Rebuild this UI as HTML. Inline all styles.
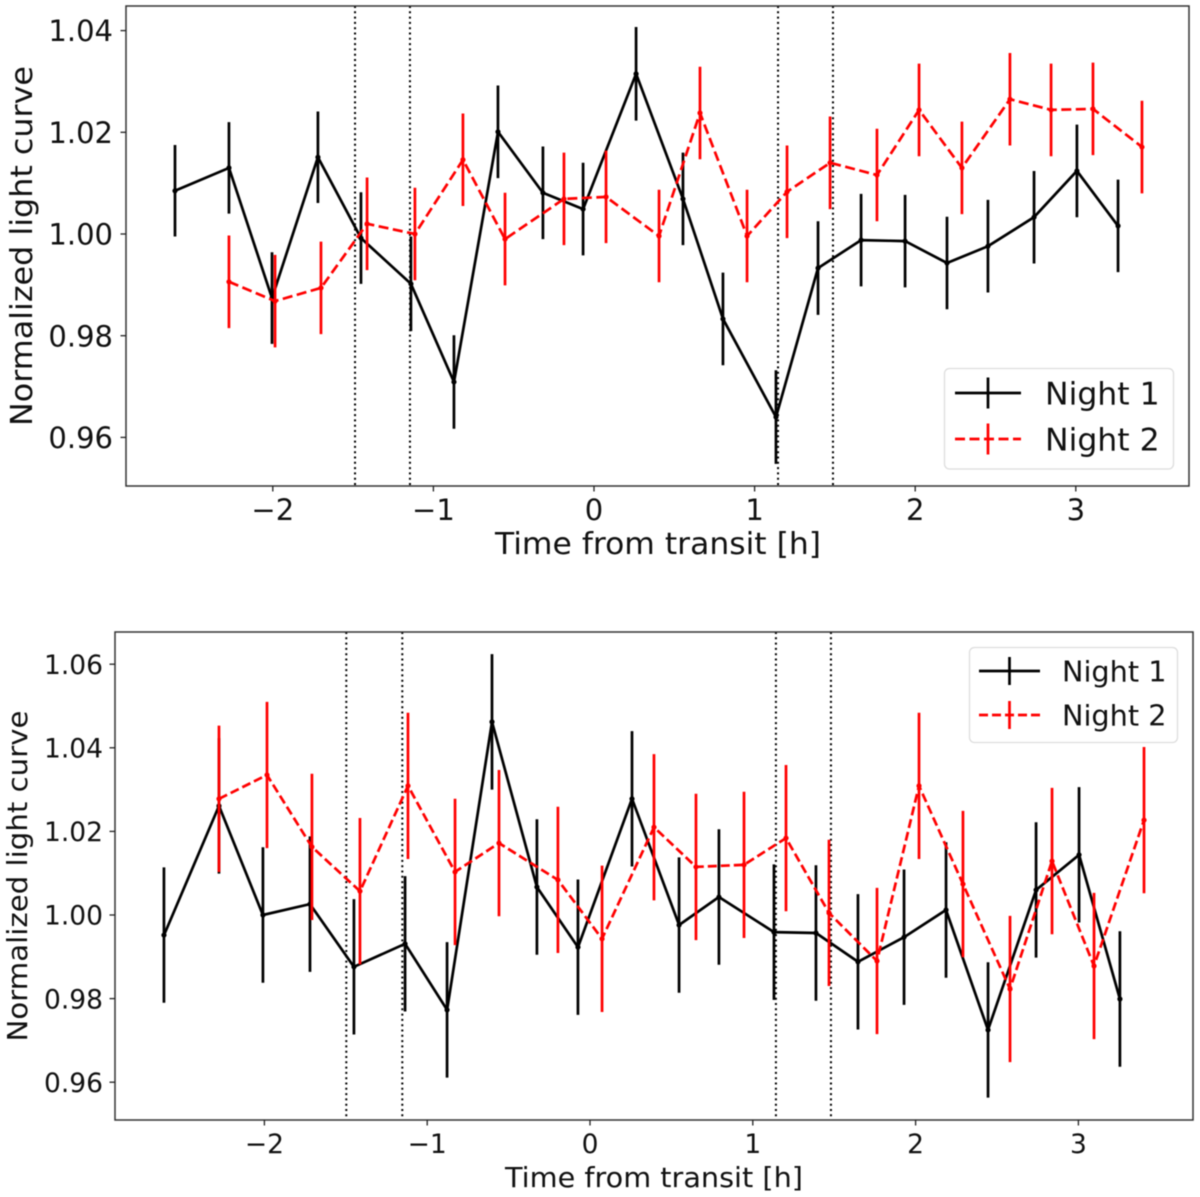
<!DOCTYPE html>
<html>
<head>
<meta charset="utf-8">
<title>Normalized light curves</title>
<style>
html,body{margin:0;padding:0;background:#fff;}
svg{display:block;font-family:"DejaVu Sans","Liberation Sans",sans-serif;filter:blur(0.4px);}
</style>
</head>
<body>
<svg id="fig" xmlns="http://www.w3.org/2000/svg" width="1200" height="1197" viewBox="0 0 1200 1197"></svg>
<script>
// ---- Top panel data ----
const topN1Time = [-2.609,-2.273,-2.005,-1.719,-1.451,-1.14,-0.872,-0.598,-0.318,-0.068,0.262,0.554,0.803,1.133,1.395,1.663,1.937,2.198,2.453,2.74,3.007,3.263];
const topN1Flux = [1.0085,1.013,0.9874,1.0151,0.9992,0.9902,0.9709,1.0201,1.0081,1.0049,1.0315,1.0069,0.9833,0.964,0.9933,0.9988,0.9986,0.9943,0.9976,1.0033,1.0124,1.0016];
const topN1Err = [0.009,0.009,0.009,0.009,0.009,0.0093,0.0092,0.0091,0.0091,0.0091,0.0092,0.0091,0.0091,0.0092,0.0092,0.0091,0.0091,0.0091,0.0091,0.0091,0.0091,0.0091];
const topN2Time = [-2.273,-1.986,-1.70,-1.413,-1.115,-0.816,-0.554,-0.187,0.075,0.405,0.66,0.953,1.202,1.47,1.762,2.024,2.291,2.59,2.846,3.107,3.412];
const topN2Flux = [0.9906,0.9868,0.9894,1.002,1.0,1.0146,0.999,1.0069,1.0073,0.9996,1.0238,0.9996,1.0083,1.014,1.0116,1.0244,1.013,1.0265,1.0244,1.0246,1.0171];
const topN2Err = [0.0091,0.0091,0.0091,0.0091,0.0091,0.0091,0.0091,0.0091,0.0091,0.0091,0.0091,0.0091,0.0091,0.0091,0.0091,0.0091,0.0091,0.0091,0.0091,0.0091,0.0091];
const topXTicks = [-2,-1,0,1,2,3];
const topYTicks = [0.96,0.98,1.00,1.02,1.04];
const topContacts = [-1.488,-1.146,1.146,1.488];
// ---- Bottom panel data ----
const botN1Time = [-2.617,-2.279,-2.009,-1.72,-1.45,-1.136,-0.878,-0.602,-0.326,-0.074,0.258,0.547,0.792,1.13,1.388,1.646,1.929,2.187,2.445,2.74,3.004,3.255];
const botN1Flux = [0.9952,1.0261,1.0,1.0026,0.9876,0.9931,0.9773,1.0462,1.0067,0.9923,1.0278,0.9976,1.0043,0.9959,0.9957,0.9888,0.9947,1.0012,0.9725,1.006,1.0144,0.9799];
const botN1Err = [0.0162,0.0162,0.0162,0.0162,0.0162,0.0162,0.0162,0.0162,0.0162,0.0162,0.0162,0.0162,0.0162,0.0162,0.0162,0.0162,0.0162,0.0162,0.0162,0.0162,0.0162,0.0162];
const botN2Time = [-2.279,-1.984,-1.708,-1.413,-1.118,-0.829,-0.559,-0.197,0.074,0.393,0.651,0.946,1.204,1.468,1.763,2.021,2.291,2.58,2.838,3.096,3.403];
const botN2Flux = [1.0278,1.0335,1.0163,1.0057,1.0309,1.0103,1.0172,1.0084,0.9943,1.021,1.0115,1.012,1.0184,1.0005,0.989,1.0309,1.0074,0.9823,1.0129,0.9878,1.0227];
const botN2Err = [0.0175,0.0175,0.0175,0.0175,0.0175,0.0175,0.0175,0.0175,0.0175,0.0175,0.0175,0.0175,0.0175,0.0175,0.0175,0.0175,0.0175,0.0175,0.0175,0.0175,0.0175];
const botXTicks = [-2,-1,0,1,2,3];
const botYTicks = [0.96,0.98,1.00,1.02,1.04,1.06];
const botContacts = [-1.497,-1.153,1.142,1.48];

const NS = 'http://www.w3.org/2000/svg';
const fig = document.getElementById('fig');

function mk(tag, attrs, parent) {
  const el = document.createElementNS(NS, tag);
  for (const k in attrs) el.setAttribute(k, attrs[k]);
  (parent || fig).appendChild(el);
  return el;
}
function fmtX(v) { return v < 0 ? '\u2212' + Math.abs(v) : String(v); }

function drawPanel(p) {
  const g = mk('g', {});
  
  
  const sx = t => p.x0 + t * p.xs;
  const sy = v => p.y1 + (1 - v) * p.ys;

  const bg = mk('rect', {x: p.left, y: p.top, width: p.right - p.left, height: p.bottom - p.top, fill: '#fff'}, g);
  
  

  // Contact lines
  p.contacts.forEach(function (t) {
    const l = mk('line', {x1: sx(t), x2: sx(t), y1: p.top, y2: p.bottom, stroke: '#000', 'stroke-width': 2, 'stroke-dasharray': '2 3.3'}, g);
    
    
  });

  // Series
  p.series.forEach(function (s) {
    const sg = mk('g', {}, g);
    
    
    const pts = s.time.map((t, i) => sx(t).toFixed(1) + ',' + sy(s.flux[i]).toFixed(1)).join(' ');
    const line = mk('polyline', {points: pts, fill: 'none', stroke: s.color, 'stroke-width': 2.7, 'stroke-linejoin': 'miter', 'stroke-dasharray': s.dash || 'none'}, sg);
    
    
    s.time.forEach(function (t, i) {
      const bar = mk('line', {x1: sx(t), x2: sx(t), y1: sy(s.flux[i] + s.err[i]), y2: sy(s.flux[i] - s.err[i]), stroke: s.color, 'stroke-width': 2.7}, sg);
      
      
      const dot = mk('circle', {cx: sx(t), cy: sy(s.flux[i]), r: 2.6, fill: s.color}, sg);
      
      
    });
  });

  // Frame
  const frame = mk('rect', {x: p.left, y: p.top, width: p.right - p.left, height: p.bottom - p.top, fill: 'none', stroke: '#333', 'stroke-width': 1.5}, g);
  
  

  // X ticks
  p.xTicks.forEach(function (t) {
    const tk = mk('line', {x1: sx(t), x2: sx(t), y1: p.bottom, y2: p.bottom + 5.5, stroke: '#222', 'stroke-width': 1.3}, g);
    
    
    const lb = mk('text', {x: sx(t), y: p.bottom + p.xTickDy, 'text-anchor': 'middle', 'font-size': p.tickFont, fill: '#111'}, g);
    lb.textContent = fmtX(t);
    
    
  });

  // Y ticks
  p.yTicks.forEach(function (v) {
    const tk = mk('line', {x1: p.left - 5.5, x2: p.left, y1: sy(v), y2: sy(v), stroke: '#222', 'stroke-width': 1.3}, g);
    
    
    const lb = mk('text', {x: p.left - p.yTickDx, y: sy(v) + p.tickFont * 0.365, 'text-anchor': 'end', 'font-size': p.tickFont, fill: '#111'}, g);
    lb.textContent = v.toFixed(2);
    
    
  });

  // Axis titles
  const xt = mk('text', {x: p.xLabelX, y: p.xLabelY, 'text-anchor': 'middle', 'font-size': p.labelFont, fill: '#111', textLength: p.xLabelLen, lengthAdjust: 'spacingAndGlyphs'}, g);
  xt.textContent = 'Time from transit [h]';
  
  
  const yt = mk('text', {transform: 'translate(' + p.yLabelX + ',' + p.yLabelY + ') rotate(-90)', 'text-anchor': 'middle', 'font-size': p.labelFont, fill: '#111', textLength: p.yLabelLen, lengthAdjust: 'spacingAndGlyphs'}, g);
  yt.textContent = 'Normalized light curve';
  
  

  // Legend
  const L = p.legend;
  const lg = mk('g', {}, g);
  
  
  const box = mk('rect', {x: L.x, y: L.y, width: L.w, height: L.h, rx: 5, fill: '#fff', 'fill-opacity': 0.85, stroke: '#ddd', 'stroke-width': 1.3}, lg);
  
  
  p.series.forEach(function (s, i) {
    const y = L.rowY[i];
    const e = mk('g', {}, lg);
    
    
    mk('line', {x1: L.hx1, x2: L.hx2, y1: y, y2: y, stroke: s.color, 'stroke-width': 2.7, 'stroke-dasharray': s.dash || 'none'}, e);
    mk('line', {x1: (L.hx1 + L.hx2) / 2, x2: (L.hx1 + L.hx2) / 2, y1: y - L.tick, y2: y + L.tick, stroke: s.color, 'stroke-width': 2.7}, e);
    const t = mk('text', {x: L.tx, y: y + L.font * 0.365, 'font-size': L.font, fill: '#111'}, e);
    t.textContent = s.label;
    
    
  });
}

drawPanel({
  name: 'top', left: 126, right: 1189, top: 6, bottom: 486,
  x0: 594, xs: 160.6, y1: 234, ys: 5085,
  contacts: topContacts,
  xTicks: topXTicks, yTicks: topYTicks,
  tickFont: 29, labelFont: 30, xTickDy: 34, yTickDx: 13,
  xLabelX: 658, xLabelY: 554, xLabelLen: 326,
  yLabelX: 32, yLabelY: 246, yLabelLen: 360,
  series: [
    {name: 'night-1', label: 'Night 1', color: '#000', time: topN1Time, flux: topN1Flux, err: topN1Err},
    {name: 'night-2', label: 'Night 2', color: '#f00', dash: '10 4.5', time: topN2Time, flux: topN2Flux, err: topN2Err}
  ],
  legend: {x: 944.5, y: 368.5, w: 229, h: 100.5, rowY: [393, 439], hx1: 955, hx2: 1021, tick: 15.5, tx: 1045, font: 31.5}
});

drawPanel({
  name: 'bottom', left: 115, right: 1193, top: 632, bottom: 1120,
  x0: 590, xs: 162.8, y1: 915, ys: 4180,
  contacts: botContacts,
  xTicks: botXTicks, yTicks: botYTicks,
  tickFont: 26.5, labelFont: 27.5, xTickDy: 33, yTickDx: 12,
  xLabelX: 654, xLabelY: 1187, xLabelLen: 298,
  yLabelX: 27, yLabelY: 876, yLabelLen: 331,
  series: [
    {name: 'night-1', label: 'Night 1', color: '#000', time: botN1Time, flux: botN1Flux, err: botN1Err},
    {name: 'night-2', label: 'Night 2', color: '#f00', dash: '9 4', time: botN2Time, flux: botN2Flux, err: botN2Err}
  ],
  legend: {x: 969.5, y: 647.5, w: 208, h: 95, rowY: [671, 715], hx1: 979, hx2: 1040, tick: 14, tx: 1062, font: 28.7}
});
</script>
</body>
</html>
